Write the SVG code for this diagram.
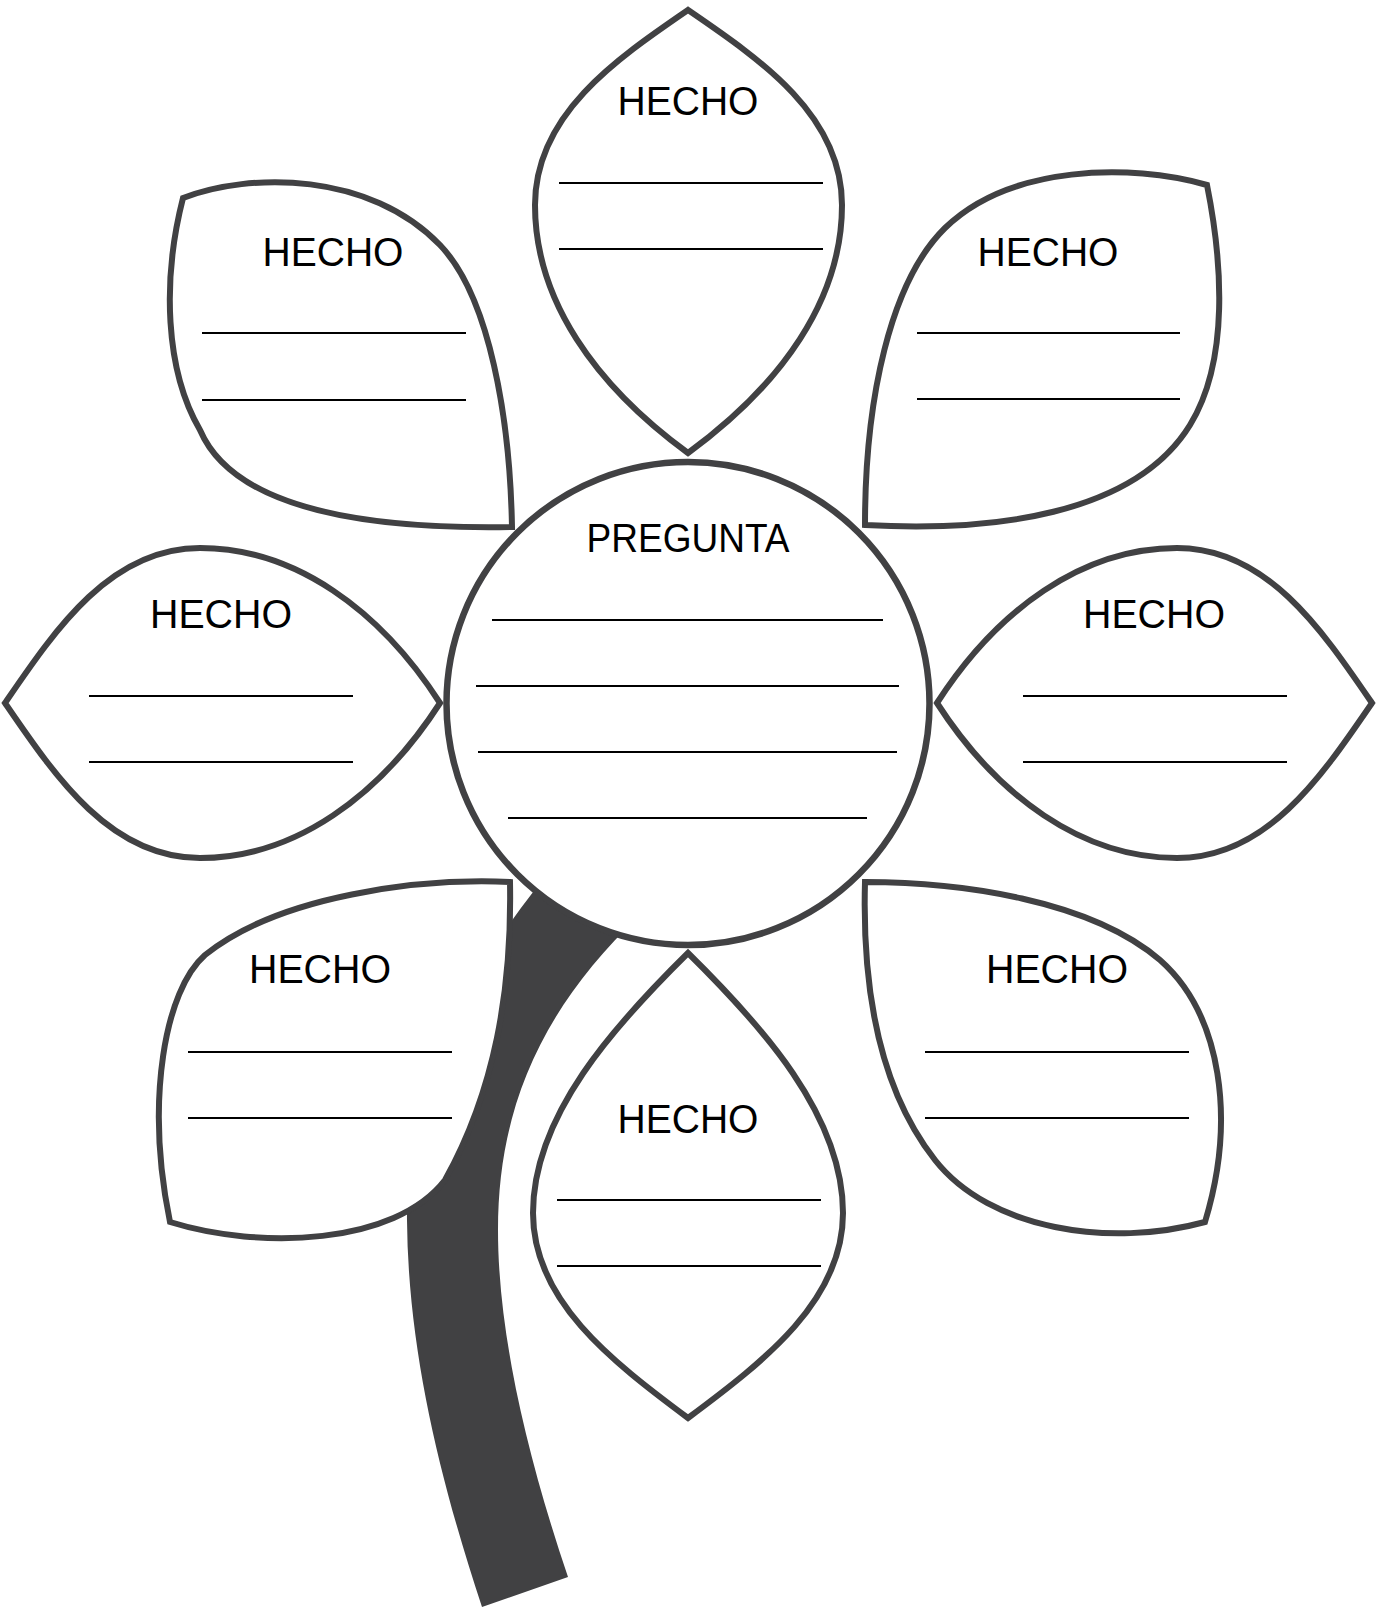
<svg xmlns="http://www.w3.org/2000/svg" width="1379" height="1608" viewBox="0 0 1379 1608">
  <style>
    .petal { fill: #ffffff; stroke: #414143; stroke-width: 6; stroke-linejoin: miter; }
    .center { fill: #ffffff; stroke: #414143; stroke-width: 6.5; }
    .rule { stroke: #000000; stroke-width: 2; }
    .lbl { font-family: "Liberation Sans", Arial, sans-serif; font-size: 41px; fill: #000000; text-anchor: middle; }
    .stem { fill: #414143; }
  </style>
  <rect width="1379" height="1608" fill="#ffffff"/>
  <g id="connectors">
    <path id="stem" class="stem" d="M560,860 C480,950 405,1080 407,1220 C408,1350 440,1480 482,1607 L568,1577 C525,1450 498,1330 498,1230 C498,1110 540,1010 640,915 L660,900 Z"/>
  </g>
  <g id="petal-top">
    <path class="petal" d="M688,10 C615,60 535,115 535,205 C535,300 595,385 688,453 C781,385 842,300 842,205 C842,115 761,60 688,10 Z"/>
    <text class="lbl" x="688" y="115" textLength="141" lengthAdjust="spacingAndGlyphs">HECHO</text>
    <line class="rule" x1="559" y1="183" x2="823" y2="183"/>
    <line class="rule" x1="559" y1="249" x2="823" y2="249"/>
  </g>
  <g id="petal-top-left">
    <path class="petal" d="M183,198 C250,172 370,172 440,245 C490,297 510,420 512,527 C340,530 230,500 200,430 C165,370 162,280 183,198 Z"/>
    <text class="lbl" x="333" y="266" textLength="141" lengthAdjust="spacingAndGlyphs">HECHO</text>
    <line class="rule" x1="202" y1="333" x2="466" y2="333"/>
    <line class="rule" x1="202" y1="400" x2="466" y2="400"/>
  </g>
  <g id="petal-top-right">
    <path class="petal" d="M1207,185 C1130,163 1010,165 945,228 C890,282 865,400 865,525 C990,532 1134,516 1190,425 C1230,360 1222,260 1207,185 Z"/>
    <text class="lbl" x="1048" y="266" textLength="141" lengthAdjust="spacingAndGlyphs">HECHO</text>
    <line class="rule" x1="917" y1="333" x2="1180" y2="333"/>
    <line class="rule" x1="917" y1="399" x2="1180" y2="399"/>
  </g>
  <g id="petal-left">
    <path class="petal" d="M5,703 C55,630 110,548 200,548 C295,548 380,610 440,703 C380,796 295,858 200,858 C110,858 55,776 5,703 Z"/>
    <text class="lbl" x="221" y="628" textLength="142" lengthAdjust="spacingAndGlyphs">HECHO</text>
    <line class="rule" x1="89" y1="696" x2="353" y2="696"/>
    <line class="rule" x1="89" y1="762" x2="353" y2="762"/>
  </g>
  <g id="petal-right">
    <path class="petal" d="M1372,703 C1322,630 1267,548 1177,548 C1082,548 997,610 937,703 C997,796 1082,858 1177,858 C1267,858 1322,776 1372,703 Z"/>
    <text class="lbl" x="1154" y="628" textLength="142" lengthAdjust="spacingAndGlyphs">HECHO</text>
    <line class="rule" x1="1023" y1="696" x2="1287" y2="696"/>
    <line class="rule" x1="1023" y1="762" x2="1287" y2="762"/>
  </g>
  <g id="petal-bottom-left">
    <path class="petal" d="M510,882 C420,878 280,895 205,955 C165,990 145,1100 170,1222 C260,1250 395,1245 445,1180 C495,1090 512,990 510,882 Z"/>
    <text class="lbl" x="320" y="983" textLength="142" lengthAdjust="spacingAndGlyphs">HECHO</text>
    <line class="rule" x1="188" y1="1052" x2="452" y2="1052"/>
    <line class="rule" x1="188" y1="1118" x2="452" y2="1118"/>
  </g>
  <g id="petal-bottom-right">
    <path class="petal" d="M865,882 C960,882 1090,900 1160,960 C1222,1015 1236,1120 1205,1222 C1110,1248 990,1230 935,1160 C880,1090 862,990 865,882 Z"/>
    <text class="lbl" x="1057" y="983" textLength="142" lengthAdjust="spacingAndGlyphs">HECHO</text>
    <line class="rule" x1="925" y1="1052" x2="1189" y2="1052"/>
    <line class="rule" x1="925" y1="1118" x2="1189" y2="1118"/>
  </g>
  <g id="petal-bottom">
    <path class="petal" d="M688,953 C615,1025 533,1115 533,1213 C533,1300 610,1360 688,1418 C766,1360 843,1300 843,1213 C843,1115 761,1025 688,953 Z"/>
    <text class="lbl" x="688" y="1133" textLength="141" lengthAdjust="spacingAndGlyphs">HECHO</text>
    <line class="rule" x1="557" y1="1200" x2="821" y2="1200"/>
    <line class="rule" x1="557" y1="1266" x2="821" y2="1266"/>
  </g>
  <g id="center-question">
    <circle class="center" cx="688" cy="703.5" r="241.5"/>
    <text class="lbl" x="688" y="552" textLength="203" lengthAdjust="spacingAndGlyphs">PREGUNTA</text>
    <line class="rule" x1="492" y1="620" x2="883" y2="620"/>
    <line class="rule" x1="476" y1="686" x2="899" y2="686"/>
    <line class="rule" x1="478" y1="752" x2="897" y2="752"/>
    <line class="rule" x1="508" y1="818" x2="867" y2="818"/>
  </g>
</svg>
